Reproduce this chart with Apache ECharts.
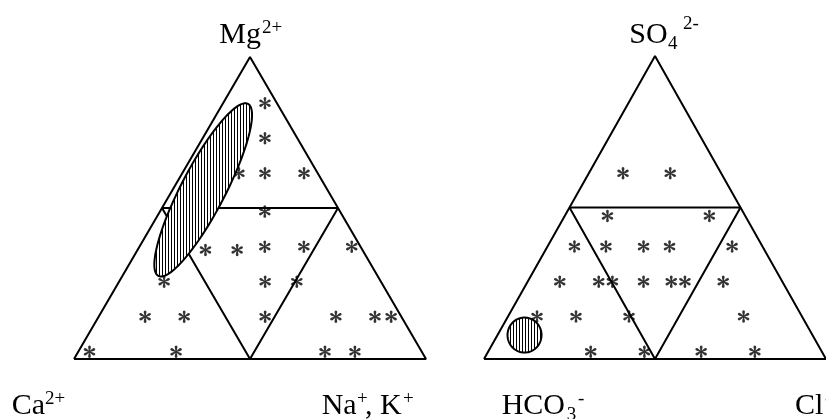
<!DOCTYPE html>
<html>
<head>
<meta charset="utf-8">
<script src="https://cdn.jsdelivr.net/npm/echarts@6/dist/echarts.min.js"></script>
<style>
  html, body { margin: 0; padding: 0; background: #fff; }
  #chart { width: 826px; height: 419px; }
</style>
</head>
<body>
<div id="chart"></div>
<script>
// Cation triangle samples (percent of meq): Ca2+ (left), Mg2+ (top), Na+ + K+ (right)
const cationCa  = [3.4, 9.2, 22.4, 15.0, 3.9, 21.4, 44.6, 35.6, 27.2, 16.1, 2.5, 61.6, 32.9, 23.9, 72.8, 61.7, 38.7, 18.6, 7.5, 2.9, 94.4, 69.8, 27.5, 19.0];
const cationMg  = [84.7, 73.1, 61.5, 61.5, 61.5, 48.8, 36.1, 36.1, 37.2, 37.2, 37.2, 25.6, 25.6, 25.6, 14.0, 14.0, 14.0, 14.0, 14.0, 14.0, 2.4, 2.4, 2.4, 2.4];
const cationNaK = [11.9, 17.7, 16.1, 23.5, 34.6, 29.8, 19.3, 28.3, 35.6, 46.7, 60.3, 12.8, 41.5, 50.5, 13.2, 24.3, 47.3, 67.4, 78.5, 83.1, 3.2, 27.8, 70.1, 78.6];

// Anion triangle samples (percent of meq): HCO3- (left), SO4 2- (top), Cl- (right)
const anionHCO3 = [28.7, 14.9, 40.3, 10.5, 55.0, 45.8, 34.8, 27.2, 8.9, 65.1, 53.7, 49.7, 40.6, 32.5, 28.5, 17.3, 77.5, 66.1, 50.6, 17.1, 67.6, 51.9, 35.3, 19.6];
const anionSO4  = [61.3, 61.3, 47.2, 47.2, 37.1, 37.1, 37.1, 37.1, 37.1, 25.5, 25.5, 25.5, 25.5, 25.5, 25.5, 25.5, 14.0, 14.0, 14.0, 14.0, 2.4, 2.4, 2.4, 2.4];
const anionCl   = [10.0, 23.8, 12.5, 42.3, 7.9, 17.1, 28.1, 35.7, 54.0, 9.4, 20.8, 24.8, 33.9, 42.0, 46.0, 57.2, 8.5, 19.9, 35.4, 68.9, 30.0, 45.7, 62.3, 78.0];

// Centres of the shaded field zones: [left, top, right] percent
const cationZoneCenter = [35.3, 56.0, 8.7];
const anionZoneCenter  = [84.2, 7.9, 7.9];

// Triangle outline and the inner (midpoint) triangle, as [left, top, right] percent
const outerFrame = [[100, 0, 0], [0, 0, 100], [0, 100, 0], [100, 0, 0]];
const innerFrame = [[50, 50, 0], [0, 50, 50], [50, 0, 50], [50, 50, 0]];

// ternary composition -> plot coordinates (x across the base, y = fraction of height)
function toXY(left, top, right) {
  const s = left + top + right;
  return [(right + top / 2) / s, top / s];
}
function points(lefts, tops, rights) {
  return lefts.map((v, i) => toXY(v, tops[i], rights[i]));
}
function framePts(list) { return list.map(p => toXY(p[0], p[1], p[2])); }

// vertical-line hatch used for the field zones
const hatch = document.createElement('canvas');
hatch.width = 3; hatch.height = 4;
(function () {
  const g = hatch.getContext('2d');
  g.fillStyle = '#fff'; g.fillRect(0, 0, 3, 4);
  g.fillStyle = '#000'; g.fillRect(0, 0, 1, 4);
})();

// hatched ellipse around a data-space centre; rx/ry in pixels, angle of the long axis in degrees
function zoneRenderer(rx, ry, angleDeg) {
  const th = angleDeg * Math.PI / 180;
  const ax = [Math.cos(th), -Math.sin(th)];
  const bx = [Math.sin(th), Math.cos(th)];
  return function (params, api) {
    const c = api.coord([api.value(0), api.value(1)]);
    const pts = [];
    for (let k = 0; k < 120; k++) {
      const t = 2 * Math.PI * k / 120;
      const u = rx * Math.cos(t), v = ry * Math.sin(t);
      pts.push([c[0] + u * ax[0] + v * bx[0], c[1] + u * ax[1] + v * bx[1]]);
    }
    return {
      type: 'polygon',
      shape: { points: pts },
      style: { fill: { image: hatch, repeat: 'repeat' }, stroke: '#000', lineWidth: 2 }
    };
  };
}

// six-petal asterisk glyph, built once as an SVG path
const asterisk = (function () {
  const petal = [[-0.9, -1], [-2.3, -7.8], [-1.8, -9.8], [0, -10.6], [1.8, -9.8], [2.3, -7.8], [0.9, -1]];
  let d = '';
  for (let k = 0; k < 6; k++) {
    const a = k * Math.PI / 3, c = Math.cos(a), s = Math.sin(a);
    petal.forEach((p, i) => {
      const x = p[0] * c - p[1] * s, y = p[0] * s + p[1] * c;
      d += (i === 0 ? 'M' : 'L') + x.toFixed(3) + ',' + y.toFixed(3);
    });
    d += 'Z';
  }
  d += 'M-1.6,0L-0.8,-1.39L0.8,-1.39L1.6,0L0.8,1.39L-0.8,1.39Z';
  return 'path://' + d;
})();

const FONT = '"Liberation Serif", "Times New Roman", serif';

function frameSeries(idx, pts) {
  return {
    type: 'line', xAxisIndex: idx, yAxisIndex: idx, data: pts, symbol: 'none',
    clip: false, silent: true, z: 2,
    lineStyle: { color: '#000', width: 2 }
  };
}
function starSeries(idx, pts) {
  return {
    type: 'scatter', xAxisIndex: idx, yAxisIndex: idx, data: pts, clip: false, z: 3,
    symbol: asterisk, symbolSize: [11.5, 12.5],
    itemStyle: { color: '#000', borderWidth: 0 }
  };
}
function zoneSeries(idx, center, rx, ry, ang) {
  return {
    type: 'custom', coordinateSystem: 'cartesian2d', xAxisIndex: idx, yAxisIndex: idx,
    data: [toXY(center[0], center[1], center[2])], z: 4,
    renderItem: zoneRenderer(rx, ry, ang)
  };
}

// x = left edge of the text, y = its baseline
function lbl(x, y, s, size) {
  return {
    type: 'text', x: x, y: y - size * 0.32, z: 10,
    style: { text: s, fill: '#000', font: size + 'px ' + FONT, align: 'left', verticalAlign: 'middle' }
  };
}

const axisHidden = { type: 'value', min: 0, max: 1, show: false };

const option = {
  backgroundColor: '#fff',
  animation: false,
  grid: [
    { left: 74, top: 57, width: 352, height: 302 },
    { left: 484, top: 56, width: 350.6, height: 303 }
  ],
  xAxis: [Object.assign({ gridIndex: 0 }, axisHidden), Object.assign({ gridIndex: 1 }, axisHidden)],
  yAxis: [Object.assign({ gridIndex: 0 }, axisHidden), Object.assign({ gridIndex: 1 }, axisHidden)],
  series: [
    frameSeries(0, framePts(outerFrame)),
    frameSeries(0, framePts(innerFrame)),
    frameSeries(1, framePts(outerFrame)),
    frameSeries(1, framePts(innerFrame)),
    starSeries(0, points(cationCa, cationMg, cationNaK)),
    starSeries(1, points(anionHCO3, anionSO4, anionCl)),
    zoneSeries(0, cationZoneCenter, 97, 22, 62.5),
    zoneSeries(1, anionZoneCenter, 17.5, 17, 90)
  ],
  graphic: [
    lbl(219.3, 45, 'Mg', 30), lbl(262, 34, '2+', 19),
    lbl(11.7, 416, 'Ca', 30), lbl(45, 405, '2+', 19),
    lbl(321.7, 416, 'Na', 30), lbl(357, 405, '+', 19), lbl(365, 416, ', K', 30), lbl(403, 405, '+', 19),
    lbl(629.3, 45, 'SO', 30), lbl(668, 50, '4', 19), lbl(683, 30, '2-', 19),
    lbl(501.7, 416, 'HCO', 30), lbl(566.7, 421, '3', 19), lbl(578, 405, '-', 19),
    lbl(795, 416, 'Cl', 30), lbl(825, 405, '-', 19)
  ]
};

const chart = echarts.init(document.getElementById('chart'), null, { renderer: 'canvas' });
chart.setOption(option);
</script>
</body>
</html>
